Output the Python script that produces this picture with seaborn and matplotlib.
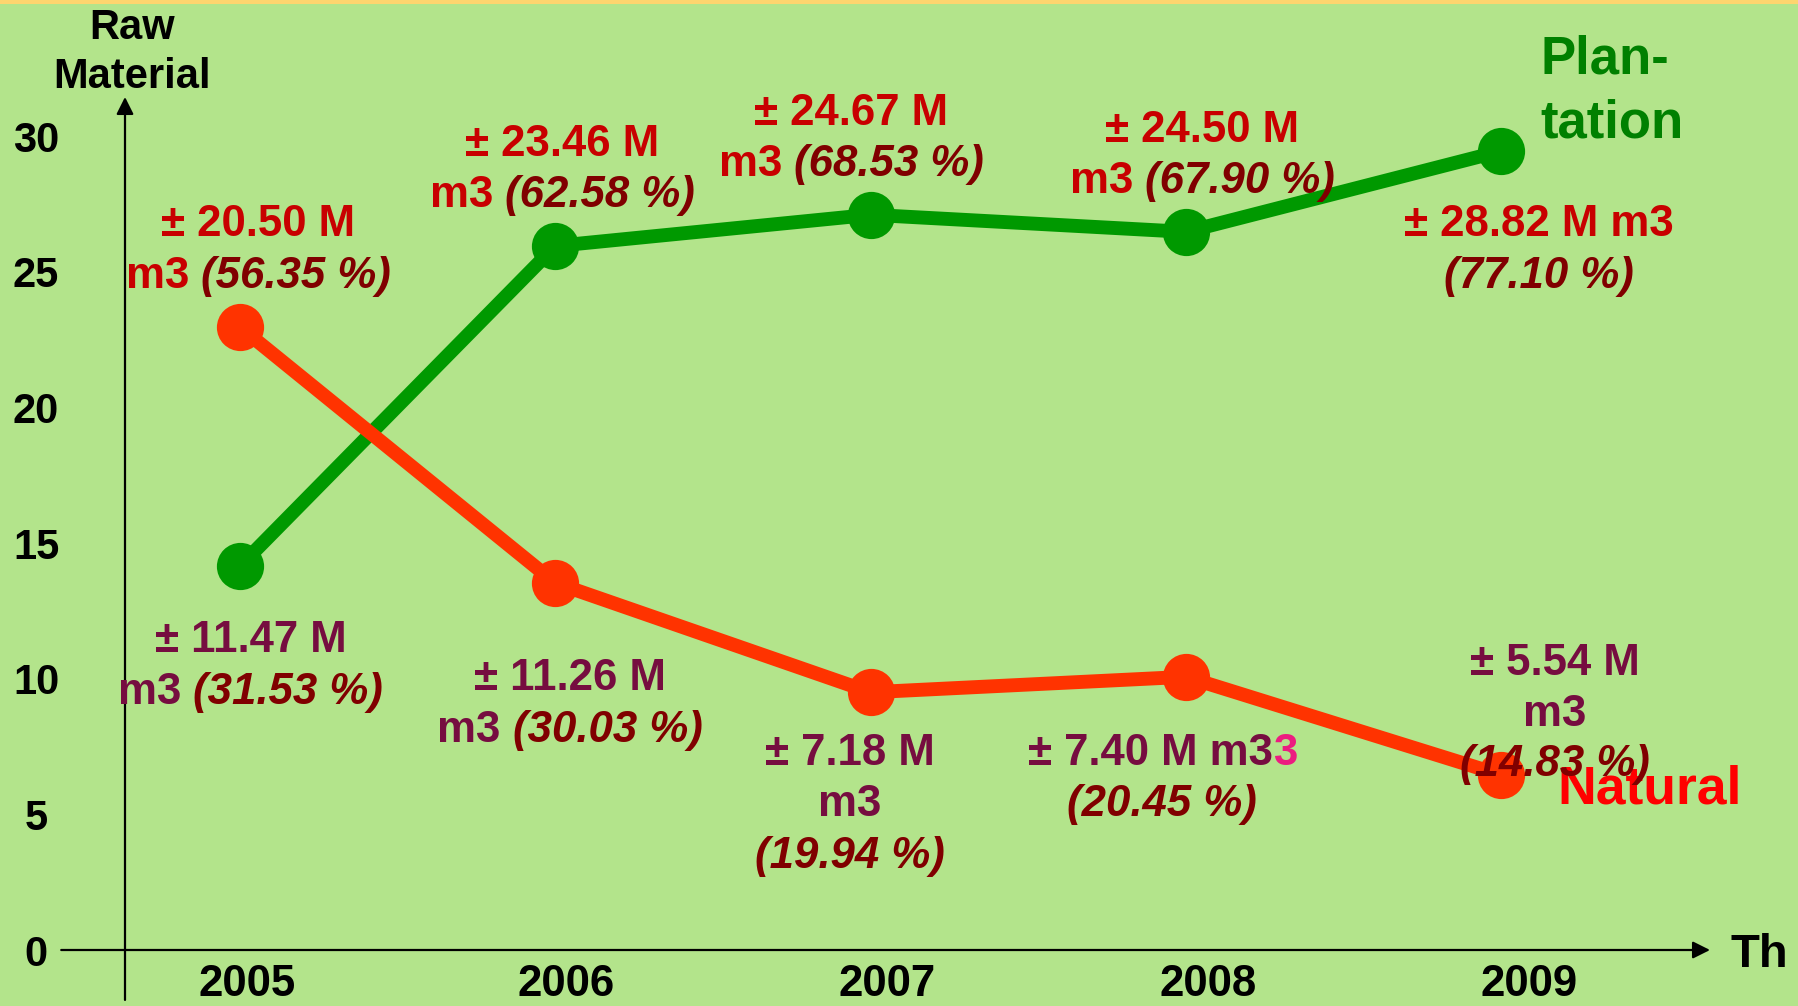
import numpy as np
import pandas as pd
import matplotlib
matplotlib.use("Agg")
import matplotlib.pyplot as plt
import seaborn as sns
from matplotlib.transforms import offset_copy
from matplotlib.patches import Rectangle

# ---------------- data ----------------
years = ["2005", "2006", "2007", "2008", "2009"]
plantation = [14.15, 25.95, 27.10, 26.47, 29.45]
natural = [22.96, 13.53, 9.50, 10.07, 6.45]

upper_amount = ["20.50", "23.46", "24.67", "24.50", "28.82"]
upper_pct = ["56.35", "62.58", "68.53", "67.90", "77.10"]
lower_amount = ["11.47", "11.26", "7.18", "7.40", "5.54"]
lower_pct = ["31.53", "30.03", "19.94", "20.45", "14.83"]

# ---------------- style ----------------
BG = "#b3e48b"
TOPBAND = "#fdd56f"
GREEN = "#009900"
ORANGE = "#ff3300"
RED_TXT = "#c80000"
DARK_TXT = "#800000"
PURPLE = "#760d40"
PINK = "#ec1c80"
SERIES_GREEN = "#008000"
SERIES_RED = "#ff0000"

sns.set_theme(style="white")
plt.rcParams["font.family"] = ["Liberation Sans", "DejaVu Sans"]

W, H = 1798, 1006
DPI = 100
fig = plt.figure(figsize=(W / DPI, H / DPI), dpi=DPI, facecolor=BG)
ax = fig.add_axes([125 / W, (H - 950) / H, (1710 - 125) / W, (950 - 97) / H])
ax.set_facecolor(BG)

xpos = np.arange(len(years))
df = pd.DataFrame({
    "x": np.concatenate([xpos, xpos]),
    "value": plantation + natural,
    "series": ["Plantation"] * len(years) + ["Natural"] * len(years),
})
sns.lineplot(data=df, x="x", y="value", hue="series", hue_order=["Plantation", "Natural"],
             palette={"Plantation": GREEN, "Natural": ORANGE}, marker="o", markersize=34,
             markeredgewidth=0, linewidth=10, legend=False, sort=False, ax=ax)

XL = (-115 / 315.3, 1470 / 315.3)
YL = (0, 853 / 27.13)
ax.set_xlim(*XL)
ax.set_ylim(*YL)
for s in ax.spines.values():
    s.set_visible(False)
ax.set_xlabel("")
ax.set_ylabel("")

# ticks
ax.set_yticks([0, 5, 10, 15, 20, 25, 30])
ax.set_yticklabels(["0", "5", "10", "15", "20", "25", "30"])
ax.tick_params(axis="y", length=0, pad=64, labelsize=30, labelcolor="black")
for t in ax.get_yticklabels():
    t.set_ha("center")
    t.set_fontweight("bold")
xtick_shift = [0.023, 0.035, 0.053, 0.071, 0.089]
ax.set_xticks(xpos + np.array(xtick_shift))
ax.set_xticklabels(years)
ax.tick_params(axis="x", length=0, pad=10, labelsize=31.5, labelcolor="black")
for t in ax.get_xticklabels():
    t.set_fontweight("bold")

# axis arrows
arrow = dict(arrowstyle="-|>", color="black", lw=1.6, mutation_scale=26, shrinkA=0, shrinkB=0)
ax.annotate("", xy=(XL[1], 0), xytext=(-0.567, 0), arrowprops=arrow, annotation_clip=False)
ax.annotate("", xy=(XL[0], YL[1]), xytext=(XL[0], -1.84), arrowprops=arrow, annotation_clip=False)

# axis titles
ax.text(-0.342, 34.0, "Raw", fontsize=30, fontweight="bold", color="black",
        ha="center", va="center", clip_on=False)
ax.text(-0.342, 32.18, "Material", fontsize=30, fontweight="bold", color="black",
        ha="center", va="center", clip_on=False)
ax.text(4.727, -0.18, "Th", fontsize=34, fontweight="bold", color="black",
        ha="left", va="center", clip_on=False)

# series names
ax.text(4.124, 32.82, "Plan-", fontsize=38, fontweight="bold", color=SERIES_GREEN,
        ha="left", va="center", clip_on=False)
ax.text(4.124, 30.45, "tation", fontsize=38, fontweight="bold", color=SERIES_GREEN,
        ha="left", va="center", clip_on=False)
ax.text(4.178, 5.93, "Natural", fontsize=38.5, fontweight="bold", color=SERIES_RED,
        ha="left", va="center", clip_on=False, zorder=6)

# ------------- mixed-style label lines -------------
renderer = fig.canvas.get_renderer()
FS = 31.5


def text_line(x, y, pieces, size=FS):
    """pieces: list of (string, color, style, gap_before)."""
    texts, widths, gaps = [], [], []
    for s, c, st, gap in pieces:
        t = ax.text(x, y, s, color=c, fontstyle=st, fontweight="bold", fontsize=size,
                    ha="left", va="baseline", clip_on=False, zorder=7)
        texts.append(t)
        widths.append(t.get_window_extent(renderer).width)
        gaps.append(0.278 * size * DPI / 72 if gap else 0.0)
    total = sum(widths) + sum(gaps)
    off = -total / 2
    dy = -0.716 * size * DPI / 72 / 2
    for t, w, g in zip(texts, widths, gaps):
        off += g
        t.set_transform(offset_copy(ax.transData, fig=fig, x=off, y=dy, units="dots"))
        off += w


upper_pos = [(0.058, [26.91, 24.99]), (1.022, [29.86, 27.96]), (1.939, [31.0, 29.1]),
             (3.052, [30.37, 28.47]), (4.12, [26.91, 24.99])]
upper_layout = ["A", "A", "A", "A", "B"]
lower_pos = [(0.033, [11.56, 9.66]), (1.047, [10.17, 8.26]), (1.935, [7.41, 5.52, 3.61]),
             (2.925, [7.41, 5.52]), (4.171, [10.71, 8.85, 7.0])]
lower_layout = ["A", "A", "C", "D", "C"]


def draw_label(x, ys, amt, pct, layout, col):
    pct_piece = ("(" + pct + " %)", DARK_TXT, "italic", False)
    if layout == "A":
        lines = [[("± " + amt + " M", col, "normal", False)],
                 [("m3", col, "normal", False), (pct_piece[0], DARK_TXT, "italic", True)]]
    elif layout == "B":
        lines = [[("± " + amt + " M m3", col, "normal", False)], [pct_piece]]
    elif layout == "C":
        lines = [[("± " + amt + " M", col, "normal", False)],
                 [("m3", col, "normal", False)], [pct_piece]]
    else:
        lines = [[("± " + amt + " M m3", col, "normal", False), ("3", PINK, "normal", False)],
                 [pct_piece]]
    for yy, pieces in zip(ys, lines):
        text_line(x, yy, pieces)


for i in range(len(years)):
    draw_label(upper_pos[i][0], upper_pos[i][1], upper_amount[i], upper_pct[i],
               upper_layout[i], RED_TXT)
    draw_label(lower_pos[i][0], lower_pos[i][1], lower_amount[i], lower_pct[i],
               lower_layout[i], PURPLE)

# thin band at top
fig.add_artist(Rectangle((0, 1 - 3.5 / H), 1, 3.5 / H, transform=fig.transFigure,
                         facecolor=TOPBAND, edgecolor="none", zorder=20))

fig.savefig("out.png", dpi=DPI, facecolor=BG)
